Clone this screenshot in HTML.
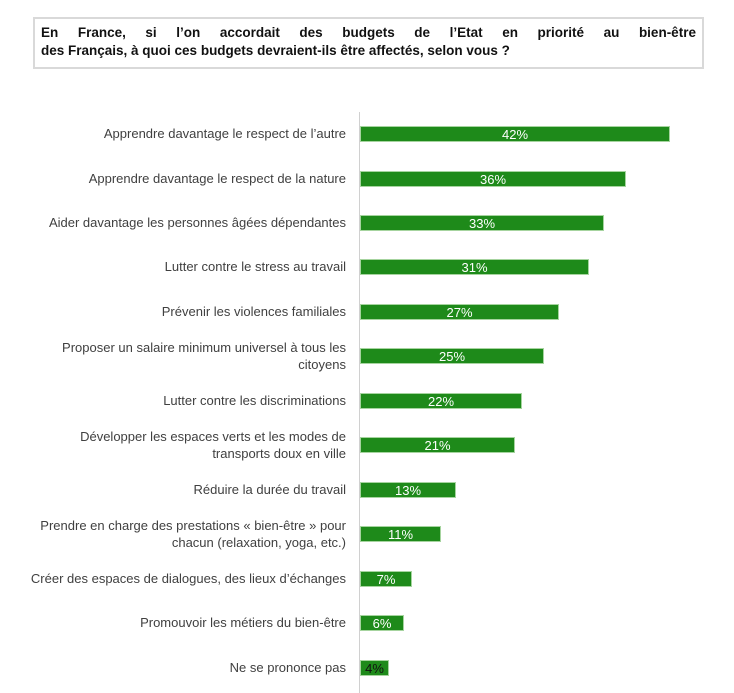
<!DOCTYPE html><html><head><meta charset="utf-8"><style>
body{margin:0;width:734px;height:693px;background:#fff;position:relative;font-family:"Liberation Sans",sans-serif;overflow:hidden}
.box{position:absolute;left:33px;top:17px;width:655px;height:38px;border:2px solid #d9d9d9;padding:5px 6px;font-weight:bold;font-size:13.5px;line-height:18px;color:#111}
.l1{text-align:justify;text-align-last:justify;white-space:nowrap;display:flex;justify-content:space-between}
.axis{position:absolute;left:359px;top:112px;width:1px;height:581px;background:#d0d0d0}
.bar{position:absolute;left:360px;height:16px;background:#1e8a1a;border:1px solid #a6d49f;box-sizing:border-box;color:#fff;font-size:13px;line-height:16px;text-align:center}
.lab{position:absolute;right:388px;width:320px;text-align:right;font-size:13px;line-height:17px;color:#404040}
</style></head><body>
<div class="box"><div class="l1"><span>En</span><span>France,</span><span>si</span><span>l’on</span><span>accordait</span><span>des</span><span>budgets</span><span>de</span><span>l’Etat</span><span>en</span><span>priorité</span><span>au</span><span>bien-être</span></div><div>des Français, à quoi ces budgets devraient-ils être affectés, selon vous ?</div></div>
<div class="axis"></div>
<div class="lab" style="top:125px">Apprendre davantage le respect de l’autre</div>
<div class="bar" style="top:126px;width:310px">42%</div>
<div class="lab" style="top:170px">Apprendre davantage le respect de la nature</div>
<div class="bar" style="top:171px;width:266px">36%</div>
<div class="lab" style="top:214px">Aider davantage les personnes âgées dépendantes</div>
<div class="bar" style="top:215px;width:244px">33%</div>
<div class="lab" style="top:258px">Lutter contre le stress au travail</div>
<div class="bar" style="top:259px;width:229px">31%</div>
<div class="lab" style="top:303px">Prévenir les violences familiales</div>
<div class="bar" style="top:304px;width:199px">27%</div>
<div class="lab" style="top:339px">Proposer un salaire minimum universel à tous les citoyens</div>
<div class="bar" style="top:348px;width:184px">25%</div>
<div class="lab" style="top:392px">Lutter contre les discriminations</div>
<div class="bar" style="top:393px;width:162px">22%</div>
<div class="lab" style="top:428px">Développer les espaces verts et les modes de transports doux en ville</div>
<div class="bar" style="top:437px;width:155px">21%</div>
<div class="lab" style="top:481px">Réduire la durée du travail</div>
<div class="bar" style="top:482px;width:96px">13%</div>
<div class="lab" style="top:517px">Prendre en charge des prestations « bien-être » pour chacun (relaxation, yoga, etc.)</div>
<div class="bar" style="top:526px;width:81px">11%</div>
<div class="lab" style="top:570px">Créer des espaces de dialogues, des lieux d’échanges</div>
<div class="bar" style="top:571px;width:52px">7%</div>
<div class="lab" style="top:614px">Promouvoir les métiers du bien-être</div>
<div class="bar" style="top:615px;width:44px">6%</div>
<div class="lab" style="top:659px">Ne se prononce pas</div>
<div class="bar" style="top:660px;width:29px;color:#111">4%</div>
</body></html>
